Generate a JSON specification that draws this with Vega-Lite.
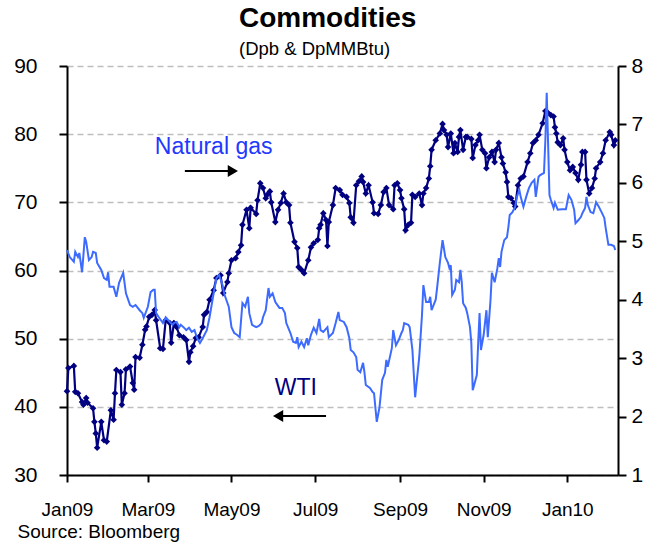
{
  "$schema": "https://vega.github.io/schema/vega-lite/v6.json",
  "width": 551,
  "height": 409,
  "autosize": "none",
  "padding": {"left": 67, "top": 66, "right": 47, "bottom": 71},
  "background": "white",
  "config": {"view": {"stroke": null}, "font": "Liberation Sans"},
  "title": {
    "text": "Commodities",
    "subtitle": "(Dpb & DpMMBtu)",
    "anchor": "start",
    "frame": "group",
    "dx": 172,
    "offset": -3,
    "font": "Liberation Sans",
    "fontSize": 28,
    "fontWeight": "bold",
    "color": "black",
    "subtitleFont": "Liberation Sans",
    "subtitleFontSize": 18.5,
    "subtitleColor": "black",
    "subtitlePadding": 7
  },
  "datasets": {
    "wti": [
      {"date": "2009-01-01", "v": 42.3}, {"date": "2009-01-02", "v": 45.7}, {"date": "2009-01-06", "v": 46.0}, {"date": "2009-01-07", "v": 42.2},
      {"date": "2009-01-09", "v": 42.0}, {"date": "2009-01-12", "v": 40.7}, {"date": "2009-01-13", "v": 40.3}, {"date": "2009-01-15", "v": 41.3},
      {"date": "2009-01-16", "v": 40.6}, {"date": "2009-01-20", "v": 39.8}, {"date": "2009-01-21", "v": 37.8}, {"date": "2009-01-22", "v": 36.1},
      {"date": "2009-01-23", "v": 34.0}, {"date": "2009-01-26", "v": 37.8}, {"date": "2009-01-28", "v": 35.1}, {"date": "2009-01-30", "v": 34.9},
      {"date": "2009-02-02", "v": 39.5}, {"date": "2009-02-04", "v": 38.1}, {"date": "2009-02-05", "v": 42.0}, {"date": "2009-02-06", "v": 45.4},
      {"date": "2009-02-09", "v": 45.1}, {"date": "2009-02-10", "v": 40.3}, {"date": "2009-02-12", "v": 42.0}, {"date": "2009-02-13", "v": 45.5},
      {"date": "2009-02-16", "v": 45.9}, {"date": "2009-02-18", "v": 43.5}, {"date": "2009-02-19", "v": 42.5}, {"date": "2009-02-20", "v": 47.3},
      {"date": "2009-02-23", "v": 47.2}, {"date": "2009-02-25", "v": 49.1}, {"date": "2009-02-27", "v": 51.3}, {"date": "2009-02-28", "v": 51.8},
      {"date": "2009-03-02", "v": 53.2}, {"date": "2009-03-04", "v": 53.5}, {"date": "2009-03-06", "v": 54.2}, {"date": "2009-03-07", "v": 52.7},
      {"date": "2009-03-10", "v": 48.6}, {"date": "2009-03-12", "v": 48.5}, {"date": "2009-03-14", "v": 52.7}, {"date": "2009-03-17", "v": 52.3},
      {"date": "2009-03-18", "v": 49.4}, {"date": "2009-03-20", "v": 52.3}, {"date": "2009-03-22", "v": 51.7}, {"date": "2009-03-24", "v": 50.5},
      {"date": "2009-03-27", "v": 50.2}, {"date": "2009-03-29", "v": 49.8}, {"date": "2009-03-31", "v": 46.6}, {"date": "2009-04-01", "v": 48.0},
      {"date": "2009-04-03", "v": 48.9}, {"date": "2009-04-05", "v": 50.1}, {"date": "2009-04-07", "v": 50.2}, {"date": "2009-04-10", "v": 51.7},
      {"date": "2009-04-11", "v": 53.5}, {"date": "2009-04-13", "v": 53.9}, {"date": "2009-04-15", "v": 55.7}, {"date": "2009-04-18", "v": 57.1},
      {"date": "2009-04-20", "v": 58.9}, {"date": "2009-04-23", "v": 59.3}, {"date": "2009-04-25", "v": 56.7}, {"date": "2009-04-28", "v": 58.3},
      {"date": "2009-04-29", "v": 59.6}, {"date": "2009-05-01", "v": 61.5}, {"date": "2009-05-04", "v": 61.8}, {"date": "2009-05-06", "v": 62.7},
      {"date": "2009-05-08", "v": 63.7}, {"date": "2009-05-09", "v": 66.7}, {"date": "2009-05-12", "v": 68.9}, {"date": "2009-05-14", "v": 66.2},
      {"date": "2009-05-15", "v": 69.2}, {"date": "2009-05-19", "v": 68.3}, {"date": "2009-05-20", "v": 70.3}, {"date": "2009-05-22", "v": 72.8},
      {"date": "2009-05-24", "v": 72.1}, {"date": "2009-05-26", "v": 70.6}, {"date": "2009-05-27", "v": 71.1}, {"date": "2009-05-29", "v": 71.6},
      {"date": "2009-05-30", "v": 70.0}, {"date": "2009-06-02", "v": 67.1}, {"date": "2009-06-04", "v": 68.9}, {"date": "2009-06-06", "v": 69.9},
      {"date": "2009-06-08", "v": 71.3}, {"date": "2009-06-10", "v": 70.0}, {"date": "2009-06-12", "v": 69.6}, {"date": "2009-06-13", "v": 67.0},
      {"date": "2009-06-16", "v": 64.2}, {"date": "2009-06-18", "v": 63.3}, {"date": "2009-06-19", "v": 60.5}, {"date": "2009-06-21", "v": 60.1},
      {"date": "2009-06-23", "v": 59.6}, {"date": "2009-06-26", "v": 61.5}, {"date": "2009-06-28", "v": 63.4}, {"date": "2009-06-30", "v": 64.0},
      {"date": "2009-07-03", "v": 64.5}, {"date": "2009-07-04", "v": 66.2}, {"date": "2009-07-05", "v": 66.7}, {"date": "2009-07-07", "v": 68.4},
      {"date": "2009-07-09", "v": 67.4}, {"date": "2009-07-10", "v": 63.6}, {"date": "2009-07-11", "v": 67.1}, {"date": "2009-07-14", "v": 69.6},
      {"date": "2009-07-16", "v": 72.1}, {"date": "2009-07-19", "v": 71.8}, {"date": "2009-07-21", "v": 71.1}, {"date": "2009-07-24", "v": 70.8},
      {"date": "2009-07-26", "v": 69.9}, {"date": "2009-07-27", "v": 67.8}, {"date": "2009-07-29", "v": 67.0}, {"date": "2009-07-31", "v": 72.5},
      {"date": "2009-08-02", "v": 73.1}, {"date": "2009-08-04", "v": 73.8}, {"date": "2009-08-05", "v": 73.0}, {"date": "2009-08-07", "v": 71.3},
      {"date": "2009-08-09", "v": 72.5}, {"date": "2009-08-12", "v": 70.0}, {"date": "2009-08-13", "v": 68.4}, {"date": "2009-08-16", "v": 68.3},
      {"date": "2009-08-18", "v": 69.6}, {"date": "2009-08-20", "v": 71.5}, {"date": "2009-08-22", "v": 72.1}, {"date": "2009-08-24", "v": 69.6},
      {"date": "2009-08-27", "v": 69.0}, {"date": "2009-08-28", "v": 72.5}, {"date": "2009-08-30", "v": 72.8}, {"date": "2009-09-01", "v": 71.8},
      {"date": "2009-09-02", "v": 70.6}, {"date": "2009-09-04", "v": 69.0}, {"date": "2009-09-05", "v": 65.9}, {"date": "2009-09-07", "v": 66.7},
      {"date": "2009-09-09", "v": 67.0}, {"date": "2009-09-10", "v": 71.1}, {"date": "2009-09-12", "v": 70.8}, {"date": "2009-09-15", "v": 71.3},
      {"date": "2009-09-17", "v": 69.6}, {"date": "2009-09-18", "v": 71.3}, {"date": "2009-09-20", "v": 72.1}, {"date": "2009-09-22", "v": 73.5},
      {"date": "2009-09-23", "v": 75.3}, {"date": "2009-09-24", "v": 77.7}, {"date": "2009-09-27", "v": 79.1}, {"date": "2009-09-30", "v": 80.1},
      {"date": "2009-10-02", "v": 81.5}, {"date": "2009-10-03", "v": 80.6}, {"date": "2009-10-05", "v": 79.9}, {"date": "2009-10-06", "v": 78.1},
      {"date": "2009-10-08", "v": 80.1}, {"date": "2009-10-10", "v": 77.2}, {"date": "2009-10-11", "v": 78.7}, {"date": "2009-10-13", "v": 77.4},
      {"date": "2009-10-14", "v": 79.6}, {"date": "2009-10-15", "v": 80.6}, {"date": "2009-10-17", "v": 77.7}, {"date": "2009-10-19", "v": 79.6},
      {"date": "2009-10-20", "v": 79.6}, {"date": "2009-10-23", "v": 79.3}, {"date": "2009-10-24", "v": 76.5}, {"date": "2009-10-26", "v": 78.4},
      {"date": "2009-10-28", "v": 79.1}, {"date": "2009-10-29", "v": 79.9}, {"date": "2009-10-31", "v": 77.7}, {"date": "2009-11-02", "v": 77.2},
      {"date": "2009-11-03", "v": 75.0}, {"date": "2009-11-05", "v": 76.6}, {"date": "2009-11-07", "v": 77.4}, {"date": "2009-11-09", "v": 75.9},
      {"date": "2009-11-10", "v": 77.7}, {"date": "2009-11-12", "v": 78.7}, {"date": "2009-11-14", "v": 76.6}, {"date": "2009-11-15", "v": 75.7},
      {"date": "2009-11-17", "v": 74.4}, {"date": "2009-11-18", "v": 73.0}, {"date": "2009-11-19", "v": 70.8}, {"date": "2009-11-21", "v": 70.6},
      {"date": "2009-11-23", "v": 69.9}, {"date": "2009-11-24", "v": 69.4}, {"date": "2009-11-26", "v": 72.5}, {"date": "2009-11-28", "v": 73.5},
      {"date": "2009-11-30", "v": 73.8}, {"date": "2009-12-03", "v": 75.9}, {"date": "2009-12-05", "v": 77.2}, {"date": "2009-12-07", "v": 78.7},
      {"date": "2009-12-09", "v": 79.1}, {"date": "2009-12-11", "v": 79.9}, {"date": "2009-12-14", "v": 81.6}, {"date": "2009-12-16", "v": 83.4},
      {"date": "2009-12-18", "v": 83.1}, {"date": "2009-12-20", "v": 82.8}, {"date": "2009-12-22", "v": 82.6}, {"date": "2009-12-23", "v": 81.0},
      {"date": "2009-12-24", "v": 80.1}, {"date": "2009-12-25", "v": 78.8}, {"date": "2009-12-27", "v": 78.4}, {"date": "2009-12-29", "v": 79.4},
      {"date": "2009-12-30", "v": 77.7}, {"date": "2010-01-01", "v": 75.9}, {"date": "2010-01-03", "v": 74.7}, {"date": "2010-01-05", "v": 75.2},
      {"date": "2010-01-07", "v": 74.3}, {"date": "2010-01-09", "v": 73.3}, {"date": "2010-01-11", "v": 75.5}, {"date": "2010-01-12", "v": 77.4},
      {"date": "2010-01-14", "v": 77.4}, {"date": "2010-01-15", "v": 73.3}, {"date": "2010-01-17", "v": 71.3}, {"date": "2010-01-19", "v": 72.1},
      {"date": "2010-01-21", "v": 73.5}, {"date": "2010-01-22", "v": 75.0}, {"date": "2010-01-25", "v": 75.9}, {"date": "2010-01-27", "v": 77.2},
      {"date": "2010-01-29", "v": 79.1}, {"date": "2010-02-01", "v": 80.3}, {"date": "2010-02-02", "v": 79.9}, {"date": "2010-02-04", "v": 78.4},
      {"date": "2010-02-05", "v": 79.1}
    ],
    "gas": [
      {"date": "2009-01-01", "v": 4.85}, {"date": "2009-01-03", "v": 4.73}, {"date": "2009-01-06", "v": 4.65}, {"date": "2009-01-07", "v": 4.82},
      {"date": "2009-01-09", "v": 4.73}, {"date": "2009-01-10", "v": 4.80}, {"date": "2009-01-12", "v": 4.47}, {"date": "2009-01-14", "v": 5.07},
      {"date": "2009-01-15", "v": 4.99}, {"date": "2009-01-17", "v": 4.68}, {"date": "2009-01-19", "v": 4.73}, {"date": "2009-01-20", "v": 4.82},
      {"date": "2009-01-22", "v": 4.80}, {"date": "2009-01-23", "v": 4.63}, {"date": "2009-01-26", "v": 4.51}, {"date": "2009-01-28", "v": 4.37},
      {"date": "2009-01-30", "v": 4.34}, {"date": "2009-01-31", "v": 4.47}, {"date": "2009-02-01", "v": 4.22}, {"date": "2009-02-04", "v": 4.22},
      {"date": "2009-02-06", "v": 4.05}, {"date": "2009-02-08", "v": 4.29}, {"date": "2009-02-11", "v": 4.46}, {"date": "2009-02-13", "v": 4.11},
      {"date": "2009-02-16", "v": 3.91}, {"date": "2009-02-18", "v": 3.88}, {"date": "2009-02-20", "v": 3.91}, {"date": "2009-02-23", "v": 3.82},
      {"date": "2009-02-25", "v": 3.77}, {"date": "2009-02-26", "v": 3.69}, {"date": "2009-03-01", "v": 3.88}, {"date": "2009-03-03", "v": 4.13},
      {"date": "2009-03-05", "v": 4.17}, {"date": "2009-03-06", "v": 4.17}, {"date": "2009-03-07", "v": 3.77}, {"date": "2009-03-09", "v": 3.70},
      {"date": "2009-03-12", "v": 3.60}, {"date": "2009-03-14", "v": 3.70}, {"date": "2009-03-17", "v": 3.62}, {"date": "2009-03-19", "v": 3.57},
      {"date": "2009-03-20", "v": 3.60}, {"date": "2009-03-22", "v": 3.62}, {"date": "2009-03-24", "v": 3.53}, {"date": "2009-03-25", "v": 3.57},
      {"date": "2009-03-27", "v": 3.53}, {"date": "2009-03-29", "v": 3.48}, {"date": "2009-03-31", "v": 3.52}, {"date": "2009-04-02", "v": 3.45},
      {"date": "2009-04-04", "v": 3.48}, {"date": "2009-04-06", "v": 3.34}, {"date": "2009-04-08", "v": 3.26}, {"date": "2009-04-10", "v": 3.34},
      {"date": "2009-04-13", "v": 3.48}, {"date": "2009-04-15", "v": 3.70}, {"date": "2009-04-18", "v": 4.11}, {"date": "2009-04-20", "v": 4.37},
      {"date": "2009-04-22", "v": 4.42}, {"date": "2009-04-24", "v": 4.29}, {"date": "2009-04-26", "v": 4.08}, {"date": "2009-04-29", "v": 3.88},
      {"date": "2009-05-01", "v": 3.53}, {"date": "2009-05-03", "v": 3.43}, {"date": "2009-05-05", "v": 3.40}, {"date": "2009-05-07", "v": 3.36},
      {"date": "2009-05-09", "v": 3.94}, {"date": "2009-05-11", "v": 3.88}, {"date": "2009-05-13", "v": 4.05}, {"date": "2009-05-14", "v": 3.77},
      {"date": "2009-05-16", "v": 3.57}, {"date": "2009-05-19", "v": 3.53}, {"date": "2009-05-21", "v": 3.55}, {"date": "2009-05-23", "v": 3.60},
      {"date": "2009-05-24", "v": 3.70}, {"date": "2009-05-26", "v": 3.82}, {"date": "2009-05-28", "v": 4.20}, {"date": "2009-05-29", "v": 4.05},
      {"date": "2009-05-31", "v": 4.11}, {"date": "2009-06-02", "v": 3.96}, {"date": "2009-06-05", "v": 3.86}, {"date": "2009-06-07", "v": 3.86},
      {"date": "2009-06-09", "v": 3.77}, {"date": "2009-06-10", "v": 3.60}, {"date": "2009-06-13", "v": 3.43}, {"date": "2009-06-15", "v": 3.28},
      {"date": "2009-06-17", "v": 3.26}, {"date": "2009-06-18", "v": 3.36}, {"date": "2009-06-19", "v": 3.19}, {"date": "2009-06-21", "v": 3.28},
      {"date": "2009-06-23", "v": 3.19}, {"date": "2009-06-25", "v": 3.34}, {"date": "2009-06-26", "v": 3.22}, {"date": "2009-06-28", "v": 3.40},
      {"date": "2009-06-30", "v": 3.52}, {"date": "2009-07-02", "v": 3.43}, {"date": "2009-07-04", "v": 3.67}, {"date": "2009-07-05", "v": 3.48},
      {"date": "2009-07-07", "v": 3.45}, {"date": "2009-07-10", "v": 3.53}, {"date": "2009-07-11", "v": 3.36}, {"date": "2009-07-14", "v": 3.43},
      {"date": "2009-07-16", "v": 3.60}, {"date": "2009-07-18", "v": 3.79}, {"date": "2009-07-19", "v": 3.65}, {"date": "2009-07-22", "v": 3.62},
      {"date": "2009-07-24", "v": 3.53}, {"date": "2009-07-26", "v": 3.34}, {"date": "2009-07-27", "v": 3.14}, {"date": "2009-07-29", "v": 3.10},
      {"date": "2009-07-31", "v": 3.02}, {"date": "2009-08-01", "v": 2.80}, {"date": "2009-08-03", "v": 2.76}, {"date": "2009-08-05", "v": 2.92},
      {"date": "2009-08-06", "v": 2.76}, {"date": "2009-08-07", "v": 2.54}, {"date": "2009-08-10", "v": 2.49}, {"date": "2009-08-12", "v": 2.42},
      {"date": "2009-08-13", "v": 2.40}, {"date": "2009-08-15", "v": 1.91}, {"date": "2009-08-17", "v": 2.16}, {"date": "2009-08-19", "v": 2.63},
      {"date": "2009-08-21", "v": 2.75}, {"date": "2009-08-22", "v": 2.97}, {"date": "2009-08-23", "v": 2.85}, {"date": "2009-08-26", "v": 3.17},
      {"date": "2009-08-27", "v": 3.48}, {"date": "2009-08-29", "v": 3.22}, {"date": "2009-08-31", "v": 3.31}, {"date": "2009-09-02", "v": 3.43},
      {"date": "2009-09-03", "v": 3.48}, {"date": "2009-09-04", "v": 3.60}, {"date": "2009-09-07", "v": 3.57}, {"date": "2009-09-08", "v": 3.53},
      {"date": "2009-09-10", "v": 3.14}, {"date": "2009-09-12", "v": 2.33}, {"date": "2009-09-15", "v": 3.02}, {"date": "2009-09-17", "v": 3.74},
      {"date": "2009-09-18", "v": 4.25}, {"date": "2009-09-20", "v": 3.96}, {"date": "2009-09-22", "v": 3.96}, {"date": "2009-09-23", "v": 4.05},
      {"date": "2009-09-24", "v": 3.82}, {"date": "2009-09-27", "v": 4.00}, {"date": "2009-09-28", "v": 4.20}, {"date": "2009-09-30", "v": 4.63},
      {"date": "2009-10-02", "v": 5.02}, {"date": "2009-10-04", "v": 4.73}, {"date": "2009-10-06", "v": 4.63}, {"date": "2009-10-07", "v": 4.54},
      {"date": "2009-10-08", "v": 4.59}, {"date": "2009-10-09", "v": 4.08}, {"date": "2009-10-11", "v": 4.17}, {"date": "2009-10-12", "v": 4.34},
      {"date": "2009-10-14", "v": 4.30}, {"date": "2009-10-15", "v": 4.51}, {"date": "2009-10-16", "v": 4.30}, {"date": "2009-10-17", "v": 3.94},
      {"date": "2009-10-19", "v": 3.86}, {"date": "2009-10-20", "v": 3.77}, {"date": "2009-10-22", "v": 3.53}, {"date": "2009-10-23", "v": 3.26},
      {"date": "2009-10-24", "v": 2.45}, {"date": "2009-10-27", "v": 2.71}, {"date": "2009-10-28", "v": 3.26}, {"date": "2009-10-29", "v": 3.77},
      {"date": "2009-10-30", "v": 3.14}, {"date": "2009-11-01", "v": 3.40}, {"date": "2009-11-03", "v": 3.82}, {"date": "2009-11-04", "v": 3.36},
      {"date": "2009-11-06", "v": 4.00}, {"date": "2009-11-07", "v": 4.46}, {"date": "2009-11-09", "v": 4.30}, {"date": "2009-11-11", "v": 4.54},
      {"date": "2009-11-12", "v": 4.71}, {"date": "2009-11-13", "v": 4.56}, {"date": "2009-11-14", "v": 4.82}, {"date": "2009-11-16", "v": 5.02},
      {"date": "2009-11-18", "v": 5.07}, {"date": "2009-11-19", "v": 5.24}, {"date": "2009-11-20", "v": 5.45}, {"date": "2009-11-22", "v": 5.50},
      {"date": "2009-11-24", "v": 5.59}, {"date": "2009-11-25", "v": 5.74}, {"date": "2009-11-27", "v": 5.88}, {"date": "2009-11-28", "v": 5.76},
      {"date": "2009-11-30", "v": 5.59}, {"date": "2009-12-02", "v": 5.76}, {"date": "2009-12-04", "v": 5.91}, {"date": "2009-12-06", "v": 6.00},
      {"date": "2009-12-08", "v": 6.05}, {"date": "2009-12-09", "v": 5.76}, {"date": "2009-12-11", "v": 6.10}, {"date": "2009-12-12", "v": 6.13},
      {"date": "2009-12-15", "v": 6.17}, {"date": "2009-12-16", "v": 6.73}, {"date": "2009-12-17", "v": 7.54}, {"date": "2009-12-18", "v": 6.68},
      {"date": "2009-12-19", "v": 5.79}, {"date": "2009-12-20", "v": 5.71}, {"date": "2009-12-22", "v": 5.57}, {"date": "2009-12-23", "v": 5.66},
      {"date": "2009-12-25", "v": 5.54}, {"date": "2009-12-28", "v": 5.55}, {"date": "2009-12-31", "v": 5.55}, {"date": "2010-01-02", "v": 5.79},
      {"date": "2010-01-04", "v": 5.71}, {"date": "2010-01-06", "v": 5.54}, {"date": "2010-01-07", "v": 5.31}, {"date": "2010-01-09", "v": 5.36},
      {"date": "2010-01-11", "v": 5.42}, {"date": "2010-01-12", "v": 5.48}, {"date": "2010-01-14", "v": 5.57}, {"date": "2010-01-15", "v": 5.76},
      {"date": "2010-01-16", "v": 5.62}, {"date": "2010-01-18", "v": 5.50}, {"date": "2010-01-20", "v": 5.48}, {"date": "2010-01-21", "v": 5.57},
      {"date": "2010-01-22", "v": 5.67}, {"date": "2010-01-24", "v": 5.59}, {"date": "2010-01-26", "v": 5.50}, {"date": "2010-01-28", "v": 5.40},
      {"date": "2010-01-29", "v": 5.23}, {"date": "2010-01-31", "v": 4.94}, {"date": "2010-02-02", "v": 4.94}, {"date": "2010-02-04", "v": 4.92},
      {"date": "2010-02-05", "v": 4.85}
    ],
    "notes": [
      {"date": "2009-04-18", "v": 78.1, "label": "Natural gas"},
      {"date": "2009-06-17", "v": 42.76, "label": "WTI"}
    ],
    "arrows": [
      {"date": "2009-03-28", "date2": "2009-05-02", "v": 74.6, "dir": "right"},
      {"date": "2009-06-04", "date2": "2009-07-09", "v": 38.66, "dir": "left"}
    ],
    "heads": [
      {"date": "2009-05-02", "v": 74.6, "dir": "right"},
      {"date": "2009-06-04", "v": 38.66, "dir": "left"}
    ]
  },
  "encoding": {
    "x": {
      "field": "date",
      "type": "temporal",
      "scale": {
        "type": "utc",
        "domain": [
          {"year": 2009, "month": 1, "date": 1, "utc": true},
          {"year": 2010, "month": 2, "date": 7, "utc": true}
        ]
      },
      "axis": {
        "title": "Source: Bloomberg",
        "values": [
          {"year": 2009, "month": 1, "date": 1, "utc": true},
          {"year": 2009, "month": 3, "date": 1, "utc": true},
          {"year": 2009, "month": 5, "date": 1, "utc": true},
          {"year": 2009, "month": 7, "date": 1, "utc": true},
          {"year": 2009, "month": 9, "date": 1, "utc": true},
          {"year": 2009, "month": 11, "date": 1, "utc": true},
          {"year": 2010, "month": 1, "date": 1, "utc": true}
        ],
        "format": "%b%y",
        "grid": false,
        "domainColor": "black",
        "domainWidth": 2,
        "tickColor": "black",
        "tickWidth": 2,
        "tickSize": 7,
        "labelFont": "Liberation Sans",
        "labelFontSize": 19,
        "labelColor": "black",
        "labelPadding": 18,
        "labelFlush": false,
        "labelOverlap": false,
        "titleFont": "Liberation Sans",
        "titleFontSize": 19,
        "titleFontWeight": "normal",
        "titleColor": "black",
        "titleAnchor": "start",
        "titleAlign": "left",
        "titleBaseline": "alphabetic",
        "titleX": -50,
        "titleY": 62
      }
    }
  },
  "layer": [
    {
      "encoding": {
        "y": {
          "field": "v",
          "type": "quantitative",
          "scale": {"domain": [30, 90], "nice": false, "zero": false},
          "axis": {
            "title": null,
            "orient": "left",
            "values": [30, 40, 50, 60, 70, 80, 90],
            "grid": true,
            "gridColor": "#BEBEBE",
            "gridDash": [6, 4],
            "gridWidth": 1.5,
            "domainColor": "black",
            "domainWidth": 2,
            "tickColor": "black",
            "tickWidth": 2,
            "tickSize": 8,
            "labelFont": "Liberation Sans",
            "labelFontSize": 21,
            "labelColor": "black",
            "labelPadding": 22
          }
        }
      },
      "layer": [
        {
          "data": {"name": "wti"},
          "mark": {
            "type": "line",
            "color": "#000080",
            "strokeWidth": 2.2,
            "point": {"shape": "diamond", "filled": true, "size": 44, "color": "#000080"}
          },
          "encoding": {}
        },
        {
          "data": {"name": "notes"},
          "transform": [{"filter": "datum.label == 'Natural gas'"}],
          "mark": {"type": "text", "font": "Liberation Sans", "fontSize": 23, "color": "#2238FF", "align": "center", "baseline": "middle"},
          "encoding": {"text": {"field": "label"}}
        },
        {
          "data": {"name": "notes"},
          "transform": [{"filter": "datum.label == 'WTI'"}],
          "mark": {"type": "text", "font": "Liberation Sans", "fontSize": 23, "color": "#000080", "align": "center", "baseline": "middle"},
          "encoding": {"text": {"field": "label"}}
        },
        {
          "data": {"name": "arrows"},
          "mark": {"type": "rule", "color": "black", "strokeWidth": 2},
          "encoding": {"x2": {"field": "date2"}}
        },
        {
          "data": {"name": "heads"},
          "mark": {"type": "point", "filled": true, "color": "black", "size": 140, "opacity": 1},
          "encoding": {
            "shape": {
              "field": "dir",
              "type": "nominal",
              "scale": {"domain": ["right", "left"], "range": ["triangle-right", "triangle-left"]},
              "legend": null
            }
          }
        }
      ]
    },
    {
      "data": {"name": "gas"},
      "mark": {"type": "line", "color": "#3D6BFF", "strokeWidth": 2},
      "encoding": {
        "y": {
          "field": "v",
          "type": "quantitative",
          "scale": {"domain": [1, 8], "nice": false, "zero": false},
          "axis": {
            "title": null,
            "orient": "right",
            "values": [1, 2, 3, 4, 5, 6, 7, 8],
            "grid": false,
            "domainColor": "black",
            "domainWidth": 2,
            "tickColor": "black",
            "tickWidth": 2,
            "tickSize": 8,
            "labelFont": "Liberation Sans",
            "labelFontSize": 21,
            "labelColor": "black",
            "labelPadding": 5
          }
        }
      }
    }
  ],
  "resolve": {"scale": {"y": "independent"}}
}
